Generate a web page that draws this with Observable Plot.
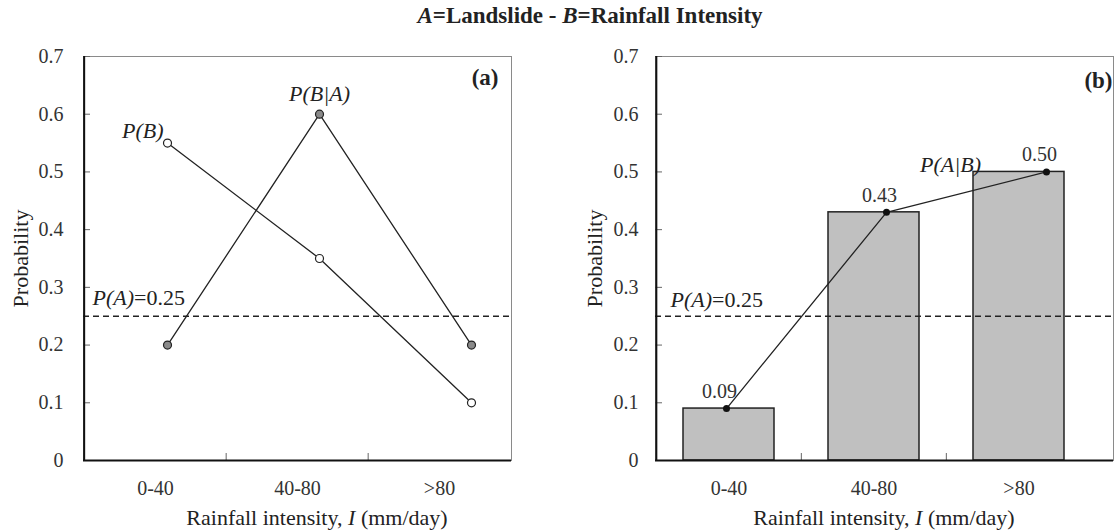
<!DOCTYPE html>
<html>
<head>
<meta charset="utf-8">
<script src="https://cdn.jsdelivr.net/npm/d3@7"></script>
<script src="https://cdn.jsdelivr.net/npm/@observablehq/plot@0.6"></script>
<style>
  html, body { margin: 0; padding: 0; background: #fff; }
  #wrap { position: relative; width: 1114px; height: 531px; font-family: "Liberation Serif", serif; color: #222; overflow: hidden; }
  .panel { position: absolute; top: 0; }
  .title { position: absolute; top: 3px; left: 390px; width: 400px; text-align: center; font-size: 23px; font-weight: bold; white-space: nowrap; }
  .xtitle { position: absolute; top: 505px; width: 400px; text-align: center; font-size: 22px; white-space: nowrap; color: #222; }
</style>
</head>
<body>
<div id="wrap">
  <div class="title"><i>A</i>=Landslide - <i>B</i>=Rainfall Intensity</div>
  <div class="xtitle" style="left:117px">Rainfall intensity, <i>I</i> (mm/day)</div>
  <div class="xtitle" style="left:684px">Rainfall intensity, <i>I</i> (mm/day)</div>
</div>
<script>
// ---- data ----
const categories = ["0-40", "40-80", ">80"];
const probB = [0.55, 0.35, 0.10];          // P(B)
const probBgivenA = [0.20, 0.60, 0.20];    // P(B|A)
const probAgivenB = [0.09, 0.43, 0.50];    // P(A|B)
const probA = 0.25;                        // P(A)
const yTickValues = [0, 0.1, 0.2, 0.3, 0.4, 0.5, 0.6, 0.7];

const rowsB = categories.map((c, i) => ({cat: c, v: probB[i]}));
const rowsBA = categories.map((c, i) => ({cat: c, v: probBgivenA[i]}));
const rowsAB = categories.map((c, i) => ({cat: c, v: probAgivenB[i]}));

const fmtTick = d => d === 0 ? "0" : d.toFixed(1);
const W = 557, H = 531, MT = 56, MB = 71;
const ink = "#222";

function basePanel({ml, mr, insetRight, tickPad, panelLabel, labelDx, labelDy, pALabelDx, pALabelDy, probDx, extraMarks}) {
  const bw = (W - ml - mr - insetRight) / categories.length;
  return Plot.plot({
    width: W, height: H,
    marginLeft: ml, marginRight: mr, marginTop: MT, marginBottom: MB,
    style: {fontFamily: "Liberation Serif", background: "transparent", color: ink, overflow: "visible"},
    x: {type: "band", domain: categories, padding: 0, insetRight, label: null, axis: null},
    y: {domain: [0, 0.7], label: null, axis: null},
    marks: [
      Plot.frame({stroke: "#8a8a8a", strokeWidth: 1}),
      ...(extraMarks || []),
      Plot.ruleY([probA], {stroke: ink, strokeWidth: 1.5, strokeDasharray: "6,4"}),
      Plot.axisY(yTickValues, {tickSize: 0, tickPadding: tickPad, tickFormat: fmtTick, fontSize: 20, fill: "#333", label: null}),
      Plot.axisY(yTickValues, {tickSize: -7, tickFormat: () => "", stroke: "#666", label: null}),
      Plot.axisX({tickSize: 0, tickPadding: 20, fontSize: 20, fill: "#333", label: null}),
      Plot.axisX({tickSize: -7, tickFormat: () => "", dx: -bw / 2, stroke: "#666", label: null}),
      Plot.ruleY([0], {stroke: "#111", strokeWidth: 2}),
      Plot.ruleX([categories[0]], {dx: -bw / 2, stroke: "#111", strokeWidth: 2}),
      Plot.text(["P(A)=0.25"], {y: () => probA, frameAnchor: "left", textAnchor: "start", dx: pALabelDx, dy: pALabelDy, fontSize: 22, fill: ink}),
      Plot.text([panelLabel], {frameAnchor: "top-right", textAnchor: "end", lineAnchor: "middle", dx: labelDx, dy: labelDy, fontSize: 23, fontWeight: "bold", fill: ink}),
      Plot.text(["Probability"], {frameAnchor: "left", textAnchor: "middle", rotate: -90, dx: probDx, fontSize: 22, fill: ink})
    ]
  });
}

function overlay({ml, mr, range, marks}) {
  return Plot.plot({
    width: W, height: H,
    marginLeft: ml, marginRight: mr, marginTop: MT, marginBottom: MB,
    style: {fontFamily: "Liberation Serif", background: "transparent", color: ink, overflow: "visible"},
    x: {type: "point", domain: categories, range, padding: 0, axis: null},
    y: {domain: [0, 0.7], axis: null},
    marks
  });
}

// ---- panel (a) ----
const leftBase = basePanel({ml: 83, mr: 46, insetRight: 0, tickPad: 20, panelLabel: "(a)", labelDx: -13, labelDy: 21, pALabelDx: 9, pALabelDy: -18, probDx: -63});
const leftOver = overlay({
  ml: 83, mr: 46, range: [166, 471],
  marks: [
    Plot.line(rowsB, {x: "cat", y: "v", stroke: ink, strokeWidth: 1.3}),
    Plot.line(rowsBA, {x: "cat", y: "v", stroke: ink, strokeWidth: 1.3}),
    Plot.dot(rowsB, {x: "cat", y: "v", r: 4, fill: "white", stroke: ink, strokeWidth: 1.2}),
    Plot.dot(rowsBA, {x: "cat", y: "v", r: 4, fill: "#8a8a8a", stroke: ink, strokeWidth: 1.2}),
    Plot.text([rowsB[0]], {x: "cat", y: "v", text: () => "P(B)", textAnchor: "end", dx: -4, dy: -12, fontSize: 22, fontStyle: "italic", fill: ink}),
    Plot.text([rowsBA[1]], {x: "cat", y: "v", text: () => "P(B|A)", dy: -20, fontSize: 22, fontStyle: "italic", fill: ink})
  ]
});

// ---- panel (b) ----
const rightBase = basePanel({ml: 98, mr: 1, insetRight: 22, tickPad: 17, panelLabel: "(b)", labelDx: -1, labelDy: 24, pALabelDx: 15, pALabelDy: -16, probDx: -61,
  extraMarks: [
    Plot.barY(rowsAB, {x: "cat", y: "v", fill: "#c0c0c0", stroke: ink, strokeWidth: 1.5, insetLeft: 27, insetRight: 27})
  ]});
const rightOver = overlay({
  ml: 98, mr: 1, range: [169, 489],
  marks: [
    Plot.line(rowsAB, {x: "cat", y: "v", stroke: ink, strokeWidth: 1.3}),
    Plot.dot(rowsAB, {x: "cat", y: "v", r: 3.5, fill: "#111"}),
    Plot.text(rowsAB, {x: "cat", y: "v", text: d => d.v.toFixed(2), dx: -7, dy: -17, fontSize: 20, fill: "#333"}),
    Plot.text([rowsAB[2]], {x: "cat", y: "v", text: () => "P(A|B)", dx: -96, dy: -7, fontSize: 22, fontStyle: "italic", fill: ink})
  ]
});

// make "P(A)" italic while "=0.25" stays upright
function styleMixed(svg) {
  svg.querySelectorAll("text").forEach(t => {
    if (t.textContent === "P(A)=0.25") {
      const tgt = t.querySelector("tspan") || t;
      tgt.textContent = "";
      const a = document.createElementNS("http://www.w3.org/2000/svg", "tspan");
      a.setAttribute("font-style", "italic");
      a.textContent = "P(A)";
      const b = document.createElementNS("http://www.w3.org/2000/svg", "tspan");
      b.textContent = "=0.25";
      tgt.appendChild(a); tgt.appendChild(b);
    }
  });
}

const wrap = document.getElementById("wrap");
[[leftBase, 0], [leftOver, 0], [rightBase, 557], [rightOver, 557]].forEach(([svg, left]) => {
  styleMixed(svg);
  const d = document.createElement("div");
  d.className = "panel";
  d.style.left = left + "px";
  d.appendChild(svg);
  wrap.appendChild(d);
});
</script>
</body>
</html>
